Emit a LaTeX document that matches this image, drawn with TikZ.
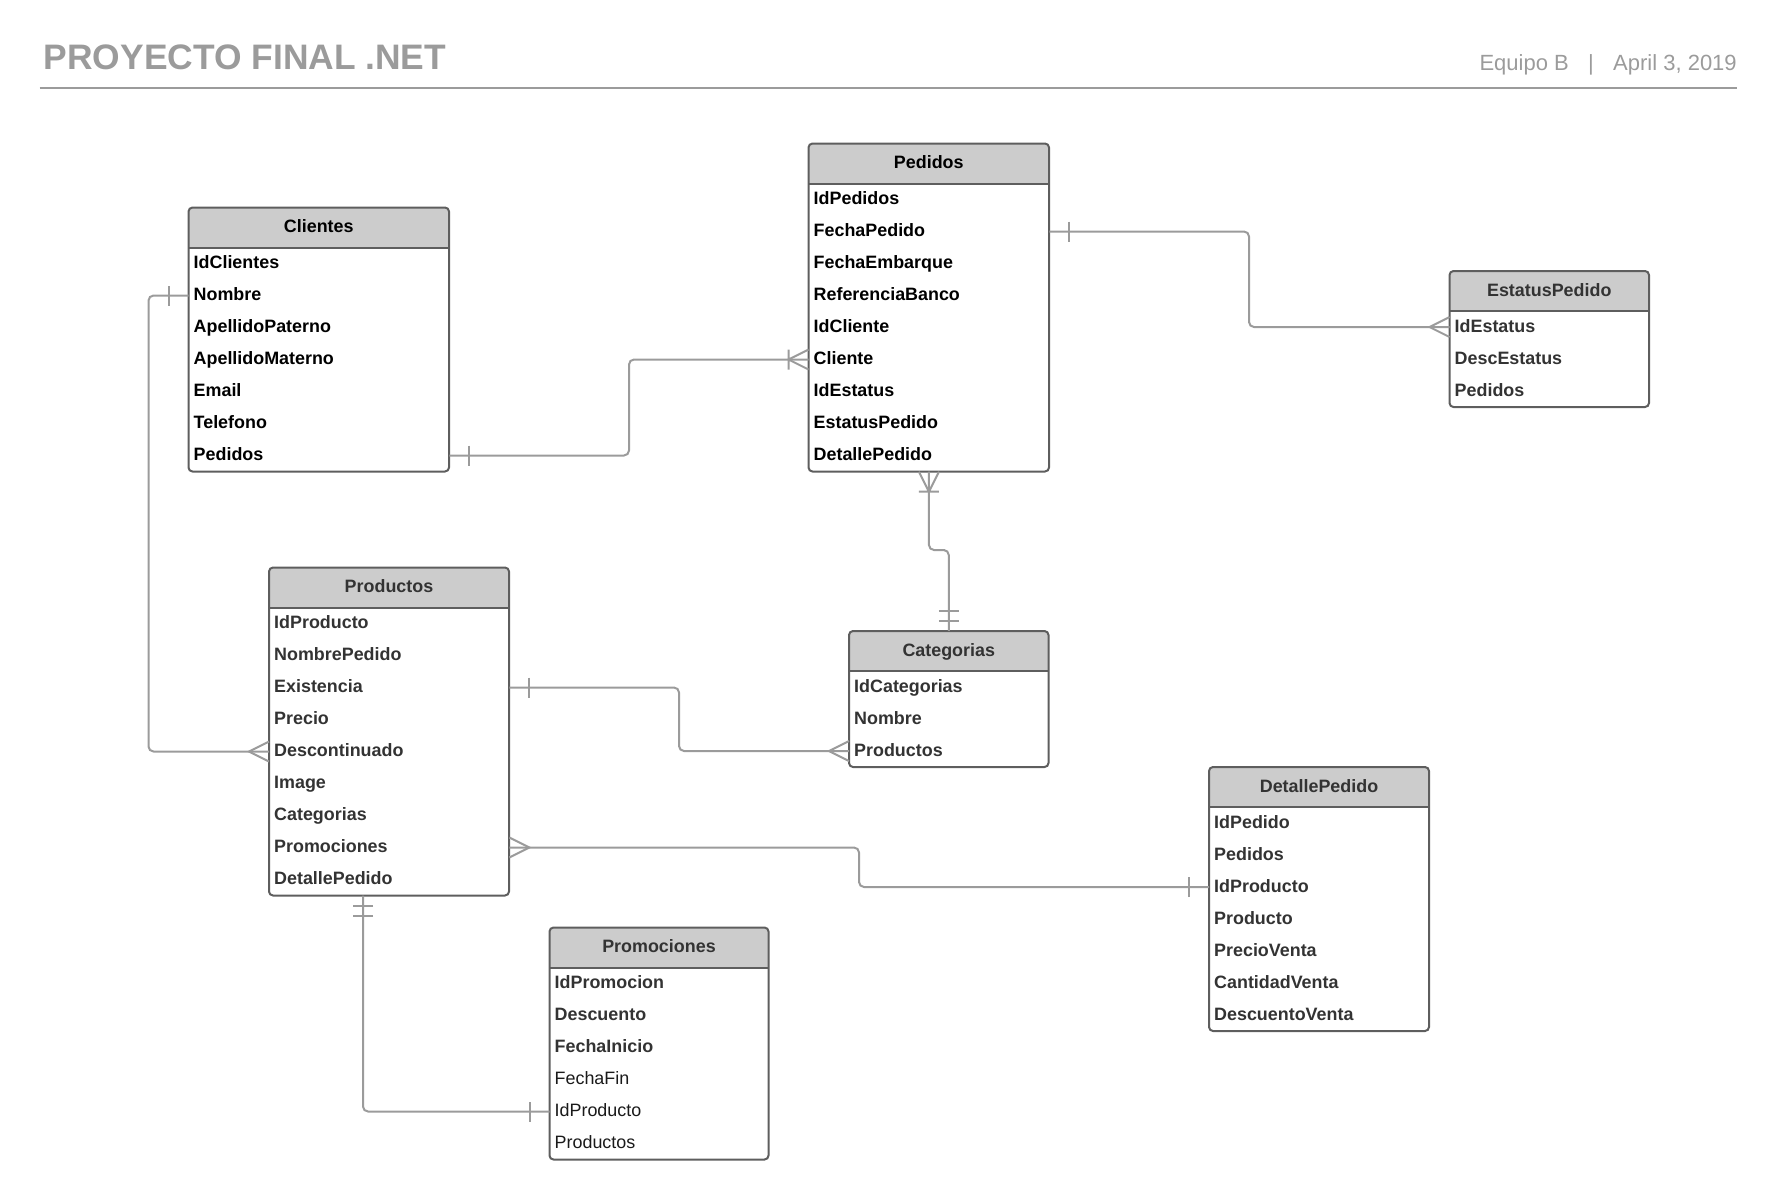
\documentclass[tikz,border=0pt]{standalone}
\usepackage{fontspec}
\setmainfont{Liberation Sans}
\usetikzlibrary{calc}

\definecolor{rulegray}{HTML}{9B9B9B}
\definecolor{linkgray}{HTML}{9B9B9B}
\definecolor{framegray}{HTML}{5E5E5E}
\definecolor{headfill}{HTML}{CCCCCC}
\definecolor{inkdark}{HTML}{333333}
\definecolor{inkplain}{HTML}{1A1A1A}

\tikzset{
  tablefont/.style={font=\fontsize{17.9}{21}\selectfont\bfseries},
  erhead/.style={tablefont, inner sep=0pt, minimum height=40pt,
    text height=13pt, text depth=3pt},
  errow/.style={tablefont, inner xsep=5pt, inner ysep=0pt, minimum height=32pt,
    anchor=west, align=left, text height=13pt, text depth=3pt},
  frame/.style={draw=framegray, line width=2pt},
  link/.style={draw=linkgray, line width=2pt, rounded corners=5pt},
  ermark/.style={draw=linkgray, line width=2pt},
  pagetitle/.style={font=\fontsize{35.4}{40}\selectfont\bfseries, text=rulegray, inner sep=0pt},
  pagemeta/.style={font=\fontsize{22}{26}\selectfont, text=rulegray, inner sep=0pt},
}

% entity table: name, left x, top y, width, title, text colour, number of rows, rows
\newcommand\erentity[8]{%
  \pgfmathsetmacro\erbottom{#3+40+32*#7}%
  \pgfmathsetmacro\ertw{#4-10}%
  \fill[white, rounded corners=4pt] (#2,#3) rectangle ({#2+#4},\erbottom);
  \begin{scope}
    \clip[rounded corners=4pt] (#2,#3) rectangle ({#2+#4},\erbottom);
    \fill[headfill] (#2,#3) rectangle ({#2+#4},{#3+40});
  \end{scope}
  \draw[frame] (#2,{#3+40}) -- ({#2+#4},{#3+40});
  \draw[frame, rounded corners=4pt] (#2,#3) rectangle ({#2+#4},\erbottom);
  \node[erhead, text=#6, minimum width=#4] (#1) at ({#2+#4/2},{#3+20}) {#5};
  \foreach \r [count=\i from 0] in {#8} {
    \node[errow, text=#6, text width=\ertw pt] (#1-\i) at (#2,{#3+56+32*\i}) {\r};
  }%
}

% relationship end marks, drawn in the frame of the attachment point
\newcommand\erOne[2]{\begin{scope}[shift={(#1)},rotate=#2]
  \draw[ermark] (20,-10) -- (20,10);\end{scope}}
\newcommand\erMany[2]{\begin{scope}[shift={(#1)},rotate=#2]
  \draw[ermark] (0,-10) -- (20,0) -- (0,10);\end{scope}}
\newcommand\erOneMany[2]{\begin{scope}[shift={(#1)},rotate=#2]
  \draw[ermark] (0,-10) -- (20,0) -- (0,10) (20,-10) -- (20,10);\end{scope}}
\newcommand\erOnlyOne[2]{\begin{scope}[shift={(#1)},rotate=#2]
  \draw[ermark] (10,-10) -- (10,10) (20,-10) -- (20,10);\end{scope}}

\begin{document}
\begin{tikzpicture}[x=1pt, y=-1pt]
  \useasboundingbox (0,0) rectangle (1777,1200);

  % page heading
  \node[pagetitle, anchor=base west] (title) at (43.5,69) {PROYECTO FINAL .NET};
  \node[pagemeta, anchor=base east] (team) at (1569,70.7) {Equipo B};
  \node[pagemeta, anchor=base] (sep) at (1591,70.7) {|};
  \node[pagemeta, anchor=base west] (date) at (1613,70.7) {April 3, 2019};
  \coordinate (ruleL) at (39.5,87.5);
  \coordinate (ruleR) at (1736.5,87.5);
  \draw[rulegray, line width=2pt] (ruleL) -- (ruleR);

  % tables
  \erentity{cli}{188.5}{207.5}{260.5}{Clientes}{black}{7}%
    {IdClientes,Nombre,ApellidoPaterno,ApellidoMaterno,Email,Telefono,Pedidos}
  \erentity{ped}{808.5}{143.5}{240.5}{Pedidos}{black}{9}%
    {IdPedidos,FechaPedido,FechaEmbarque,ReferenciaBanco,IdCliente,Cliente,IdEstatus,EstatusPedido,DetallePedido}
  \erentity{est}{1449.5}{271}{199.5}{EstatusPedido}{inkdark}{3}%
    {IdEstatus,DescEstatus,Pedidos}
  \erentity{pro}{269}{567.5}{240}{Productos}{inkdark}{9}%
    {IdProducto,NombrePedido,Existencia,Precio,Descontinuado,Image,Categorias,Promociones,DetallePedido}
  \erentity{cat}{849}{631}{199.5}{Categorias}{inkdark}{3}%
    {IdCategorias,Nombre,Productos}
  \erentity{det}{1209}{767}{220}{DetallePedido}{inkdark}{7}%
    {IdPedido,Pedidos,IdProducto,Producto,PrecioVenta,CantidadVenta,DescuentoVenta}
  \erentity{prm}{549.5}{927.5}{219}{Promociones}{inkdark}{6}%
    {IdPromocion,Descuento,FechaInicio,{\mdseries\color{inkplain}FechaFin},{\mdseries\color{inkplain}IdProducto},{\mdseries\color{inkplain}Productos}}

  % relationships
  \draw[link] (cli-6.east) -| (629,400) |- (ped-5.west);
  \erOne{cli-6.east}{0}
  \erOneMany{ped-5.west}{180}

  \draw[link] (ped-1.east) -| (1249,300) |- (est-0.west);
  \erOne{ped-1.east}{0}
  \erMany{est-0.west}{180}

  \draw[link] (ped-8.south) |- (940,550) -| (cat.north);
  \erOneMany{ped-8.south}{-90}
  \erOnlyOne{cat.north}{90}

  \draw[link] (pro-2.east) -| (679,720) |- (cat-2.west);
  \erOne{pro-2.east}{0}
  \erMany{cat-2.west}{180}

  \draw[link] (cli-1.west) -| (148.5,500) |- (pro-4.west);
  \erOne{cli-1.west}{180}
  \erMany{pro-4.west}{180}

  \draw[link] (pro-7.east) -| (859,870) |- (det-2.west);
  \erMany{pro-7.east}{0}
  \erOne{det-2.west}{180}

  \coordinate (promoLink) at (363,0);
  \draw[link] (pro-8.south -| promoLink) |- (prm-4.west);
  \erOnlyOne{pro-8.south -| promoLink}{-90}
  \erOne{prm-4.west}{180}
\end{tikzpicture}
\end{document}
